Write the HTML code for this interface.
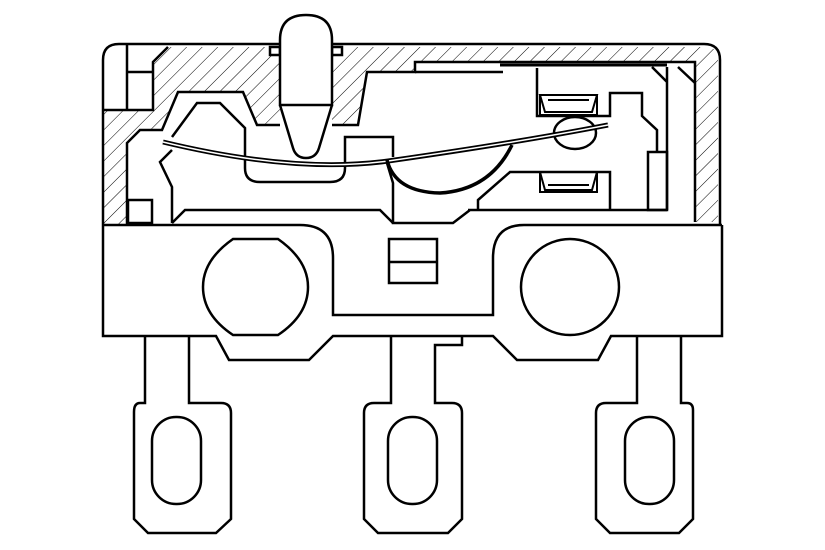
<!DOCTYPE html>
<html><head><meta charset="utf-8"><style>html,body{margin:0;padding:0;background:#fff}svg{display:block}</style></head>
<body>
<svg width="825" height="550" viewBox="0 0 825 550" xmlns="http://www.w3.org/2000/svg">
<defs>
<pattern id="h" patternUnits="userSpaceOnUse" width="11" height="11" patternTransform="rotate(45)">
<line x1="0" y1="0" x2="0" y2="11" stroke="#000" stroke-width="1"/>
</pattern>
</defs>
<g fill="url(#h)" stroke="none">
<path d="M103,110 L153,110 L153,62 L168,47 L270,47 L270,55 L280,55 L280,125 L257,125 L243,92 L178,92 L162,130 L140,130 L127,143 L127,225 L103,225 Z"/>
<path d="M332,55 L342,55 L342,47 L706,47 Q718,47 718,60 L718,222 L695,222 L695,62 L415,62 L415,72 L367,72 L358,125 L332,125 Z"/>
</g>
<g fill="none" stroke="#000" stroke-width="2.5" stroke-linejoin="miter">
<!-- outer housing -->
<path d="M103,225 L103,60 Q103,44 119,44 L704,44 Q720,44 720,60 L720,225"/>
<path d="M127,44 L127,110 M103,110 L153,110 L153,62 L168,47 M127,72 L153,72"/>
<path d="M127,225 L127,143 L140,130 L162,130 L178,92 L243,92 L257,125 L280,125"/>
<path d="M332,125 L358,125 L367,72 L415,72 L415,62 L695,62 L695,222"/>
<rect x="270" y="47" width="10" height="8"/>
<rect x="332" y="47" width="10" height="8"/>
<!-- plunger -->
<path d="M280,105 L280,40 Q280,15 306,15 Q332,15 332,40 L332,105 Z" fill="#fff"/>
<path d="M280,105 L293,148 Q296,158 306,158 Q316,158 319,148 L332,105"/>
<!-- inner left part -->
<rect x="128" y="200" width="24" height="23"/>
<path d="M172,137 L197,103 L220,103 L245,128 L245,168 Q245,182 260,182 L330,182 Q345,182 345,168 L345,137 L393,137 L393,157"/>
<path d="M172,150 L160,162 L172,187 L172,223 M172,223 L185,210 L380,210 L393,223"/>
<path d="M387,163 L393,183 L393,223 L453,223 L470,210 L478,210 L478,200 L510,172 L610,172 L610,210 M468,210 L667,210"/>
<!-- right internals -->
<path d="M537,68 L537,116 L610,116 L610,93 L642,93 L642,116 L657,130 L657,152"/>
<rect x="648" y="152" width="19" height="58"/>
<path d="M667,67 L667,210 M652,67 L667,82 M678,67 L695,83 M415,72 L503,72"/>
<path d="M500,65 L667,65" stroke-width="3"/>
<path d="M540,95 L597,95 L592,112 L545,112 Z M548,100 L589,100 M540,95 L540,115 L597,115 L597,95" stroke-width="2"/>
<path d="M540,172 L597,172 L592,190 L545,190 Z M548,185 L589,185 M540,172 L540,192 L597,192 L597,172" stroke-width="2"/>
<ellipse cx="575" cy="133" rx="21" ry="16"/>
<!-- spring -->
<path d="M163,142 Q300,175 395,160 Q520,142 608,125" stroke-width="5"/>
<path d="M163,142 Q300,175 395,160 Q520,142 608,125" stroke="#fff" stroke-width="1.5"/>
<path d="M387,160 Q395,192 440,193 Q490,190 512,145" stroke-width="3.5"/>
<!-- base -->
<path d="M103,225 L300,225 Q333,225 333,258 L333,315 L493,315 L493,258 Q493,225 524,225 L722,225"/>
<path d="M103,225 L103,336 L216,336 L229,360 L309,360 L333,336 L493,336 L517,360 L598,360 L611,336 L722,336 L722,225"/>
<path d="M233,239 L278,239 Q308,260 308,287 Q308,315 278,335 L233,335 Q203,315 203,287 Q203,260 233,239 Z"/>
<ellipse cx="570" cy="287" rx="49" ry="48"/>
<rect x="389" y="239" width="48" height="44"/>
<line x1="389" y1="262" x2="437" y2="262"/>
<!-- pins -->
<path d="M145,336 L145,403 L140,403 Q134,403 134,412 L134,519 L148,533 L216,533 L231,519 L231,413 Q231,403 221,403 L189,403 L189,336"/>
<path d="M391,336 L391,403 L374,403 Q364,403 364,413 L364,519 L378,533 L448,533 L462,519 L462,413 Q462,403 452,403 L435,403 L435,345 L462,345 L462,336"/>
<path d="M637,336 L637,403 L606,403 Q596,403 596,413 L596,519 L610,533 L679,533 L693,519 L693,410 Q693,403 687,403 L681,403 L681,336"/>
<rect x="152" y="417" width="49" height="87" rx="24" ry="24"/>
<rect x="388" y="417" width="49" height="87" rx="24" ry="24"/>
<rect x="625" y="417" width="49" height="87" rx="24" ry="24"/>
</g>
</svg>
</body></html>
